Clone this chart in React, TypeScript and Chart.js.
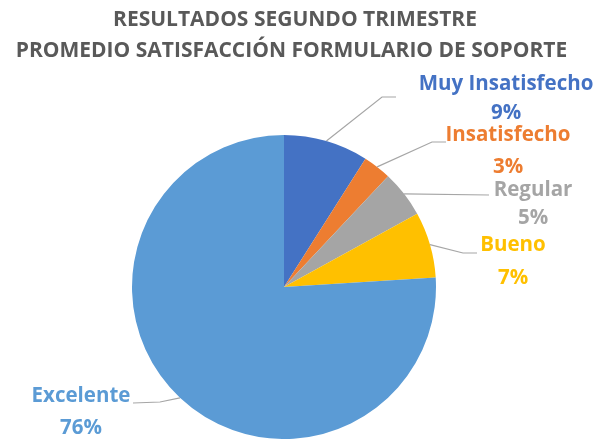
import React, { useEffect, useRef } from "react";
import { Chart, registerables } from "chart.js";

Chart.register(...registerables);

const titleLines = ["RESULTADOS SEGUNDO TRIMESTRE", "PROMEDIO SATISFACCIÓN FORMULARIO DE SOPORTE"];
const categories = ["Muy Insatisfecho", "Insatisfecho", "Regular", "Bueno", "Excelente"];
const values = [9, 3, 5, 7, 76];
const pctLabels = ["9%", "3%", "5%", "7%", "76%"];
const colors = ["#4472C4", "#ED7D31", "#A5A5A5", "#FFC000", "#5B9BD5"];

// label layout: elbow point, end point, label center x, name y, pct y
const labelLayout = [
  { elbow: [382, 97], end: [396, 97], x: 506, ny: 84, py: 113 },
  { elbow: [432, 142], end: [446, 142], x: 508, ny: 135, py: 167 },
  { elbow: [489, 195], end: [489, 195], x: 533, ny: 190, py: 218 },
  { elbow: [463, 253], end: [477, 253], x: 513, ny: 245, py: 278 },
  { elbow: [160, 402], end: [133, 403], x: 81, ny: 396, py: 428 },
];

const FONT = "'Open Sans', Lato, sans-serif";

const labelsPlugin = {
  id: "customLabels",
  afterDraw(chart: any) {
    const ctx = chart.ctx;
    ctx.save();
    // title
    ctx.fillStyle = "#595959";
    ctx.font = `bold 21px ${FONT}`;
    ctx.textAlign = "center";
    ctx.textBaseline = "middle";
    ctx.fillText(titleLines[0], 295, 20);
    ctx.fillText(titleLines[1], 291.5, 51);

    const meta = chart.getDatasetMeta(0);
    meta.data.forEach((arc: any, i: number) => {
      const mid = (arc.startAngle + arc.endAngle) / 2;
      const r = arc.outerRadius;
      const sx = arc.x + Math.cos(mid) * r;
      const sy = arc.y + Math.sin(mid) * r;
      const L = labelLayout[i];
      ctx.strokeStyle = "#A6A6A6";
      ctx.lineWidth = 1.2;
      ctx.beginPath();
      ctx.moveTo(sx, sy);
      ctx.lineTo(L.elbow[0], L.elbow[1]);
      ctx.lineTo(L.end[0], L.end[1]);
      ctx.stroke();

      ctx.fillStyle = colors[i];
      ctx.font = `bold 20.5px ${FONT}`;
      ctx.textAlign = "center";
      ctx.textBaseline = "middle";
      ctx.fillText(categories[i], L.x, L.ny);
      ctx.fillText(pctLabels[i], L.x, L.py);
    });
    ctx.restore();
  },
};

export default function App() {
  const ref = useRef<HTMLCanvasElement | null>(null);
  useEffect(() => {
    if (!ref.current) return;
    const chart = new Chart(ref.current, {
      type: "pie",
      data: {
        labels: categories,
        datasets: [
          {
            data: values,
            backgroundColor: colors,
            borderWidth: 0,
          },
        ],
      },
      options: {
        responsive: false,
        animation: false,
        layout: { padding: { top: 135, left: 132, right: 161, bottom: 0 } },
        plugins: {
          legend: { display: false },
          tooltip: { enabled: false },
          title: { display: false },
        },
      },
      plugins: [labelsPlugin],
    });
    return () => chart.destroy();
  }, []);
  return (
    <div style={{ position: "fixed", left: 0, top: 0, width: 597, height: 439, background: "#fff" }}>
      <canvas ref={ref} width={597} height={439} />
    </div>
  );
}
